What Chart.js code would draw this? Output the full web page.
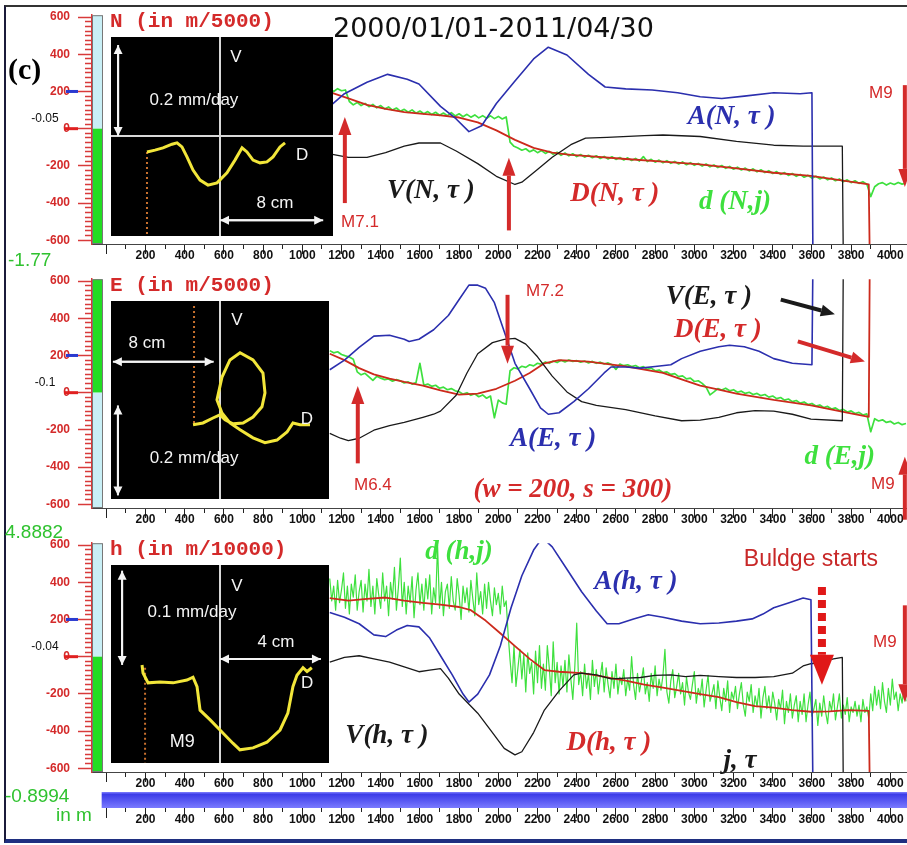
<!DOCTYPE html>
<html>
<head>
<meta charset="utf-8">
<script src="https://cdn.jsdelivr.net/npm/chart.js@4.4.0/dist/chart.umd.min.js"></script>
<style>
  body { margin: 0; width: 907px; height: 845px; overflow: hidden; background: #fff; position: relative; font-family: 'Liberation Sans', Arial, sans-serif; }
  canvas { position: absolute; }
  .t { position: absolute; white-space: nowrap; line-height: 1; }
  #frame { position: absolute; left: 4px; top: 5px; width: 930px; height: 838px; box-sizing: border-box;
    border-left: 2px solid #1b1b3a; border-top: 2px solid #333; border-bottom: 4px solid #1f2f80; }
</style>
</head>
<body>
<div id="frame"></div>
<canvas id="pN" width="940" height="266" style="left:0;top:0"></canvas>
<canvas id="pE" width="940" height="266" style="left:0;top:264px"></canvas>
<canvas id="pH" width="940" height="266" style="left:0;top:528px"></canvas>
<canvas id="strip" width="940" height="46" style="left:0;top:784px"></canvas>
<canvas id="iN" width="222" height="199" style="left:111px;top:37px;background:#000"></canvas>
<canvas id="iE" width="218" height="198" style="left:111px;top:301px;background:#000"></canvas>
<canvas id="iH" width="218" height="198" style="left:111px;top:565px;background:#000"></canvas>

<div class="t" style="left:8px;top:52px;font:bold 30px 'Liberation Serif'">(c)</div>
<div class="t" style="left:333px;top:12px;font:27px 'DejaVu Sans';color:#111">2000/01/01-2011/04/30</div>
<div class="t" style="left:110px;top:10px;font:bold 21px 'Liberation Mono';color:#d42a2a">N (in m/5000)</div>
<div class="t" style="left:110px;top:274px;font:bold 21px 'Liberation Mono';color:#d42a2a">E (in m/5000)</div>
<div class="t" style="left:110px;top:538px;font:bold 21px 'Liberation Mono';color:#d42a2a">h (in m/10000)</div>
<div class="t" style="left:8px;top:249px;font:19px 'Liberation Sans';color:#2fc22f">-1.77</div>
<div class="t" style="left:5px;top:521px;font:19px 'Liberation Sans';color:#2fc22f">4.8882</div>
<div class="t" style="left:5px;top:785px;font:19px 'Liberation Sans';color:#2fc22f">-0.8994</div>
<div class="t" style="left:56px;top:804px;font:19px 'Liberation Sans';color:#2fc22f">in m</div>

<script>
// days of the daily series (j); N and E sampled every 20 days, h every 10 days
const dayStart = 1140, dayStep = 20, hStep = 10

// d(N,j), d(E,j), d(h,j) - raw daily values
const dN = [212, 200, 215, 204, 208, 146, 128, 141, 124, 136, 118, 130, 112, 124, 106,
  117, 100, 111, 94, 104, 88, 101, 83, 95, 80, 92, 76, 88, 72, 84, 70, 86, 68, 80, 64,
  77, 62, 74, 58, 70, 56, 69, 54, 66, 52, 63, -72, -95, -104, -116, -108, -124, -114, -129, -118,
  -133, -122, -138, -127, -143, -131, -146, -135, -150, -139, -153, -143, -156, -146, -160,
  -149, -163, -151, -165, -155, -168, -157, -171, -160, -174, -150, -177, -165, -180, -169,
  -183, -172, -186, -176, -190, -179, -194, -183, -197, -187, -201, -190, -205, -195, -209,
  -198, -213, -203, -218, -207, -222, -212, -227, -216, -232, -221, -236, -226, -241, -231,
  -246, -236, -251, -241, -256, -246, -261, -251, -266, -256, -270, -260, -275, -265, -280,
  -270, -285, -275, -290, -280, -294, -285, -298, -365, -312, -296, -290, -303, -292, -300,
  -289, -298, -292]
const dE = [226, 214, 220, 205, 198, 192, 180, 112, 96, 104, 85, 66, 88, 78, 70,
  74, 62, 70, 64, 52, 58, 46, 54, 158, 40, 46, 34, 40, 24, 30, 16, 22, 10, 5, -8,
  0, -14, -6, -22, -12, -30, -18, -135, -40, -55, -62, 118, 134, 128, 142, 136, 150, 144, 158, 152,
  165, 158, 170, 162, 174, 165, 176, 168, 172, 164, 170, 160, 168, 158, 164,
  154, 160, 150, 125, 154, 145, 150, 140, 146, 134, 140, 126, 132, 118, 122,
  108, 112, 98, 102, 86, 90, 74, 78, 60, 64, 50, 30, -12, 4, 22,
  14, 24, 10, 16, 2, 8, -4, 2, -10, -4, -16, -10, -24, -18, -32,
  -26, -40, -34, -48, -42, -56, -50, -64, -58, -72, -66, -80, -74, -88, -82,
  -96, -90, -104, -98, -112, -106, -120, -114, -210, -140, -152, -146, -160, -154, -168,
  -160, -172, -166]
const dh = [420, 300, 380, 250, 410, 290, 360, 450, 260, 380,
  230, 390, 320, 440, 250, 350, 410, 240, 390, 300,
  470, 270, 380, 230, 420, 330, 260, 450, 300, 380,
  220, 400, 310, 480, 250, 370, 530, 270, 400, 230,
  380, 290, 430, 210, 360, 450, 280, 390, 250, 420,
  310, 440, 230, 370, 290, 600, 260, 400, 220, 350,
  390, 260, 430, 300, 250, 420, 330, 200, 380, 290,
  370, 240, 410, 310, 220, 450, 280, 350, 230, 390,
  260, 400, 300, 220, 370, 280, 340, 230, 380, 270,
  300, 120, -20, -140, 60, -160, -60, 40, -120, 10,
  -190, 20, -90, -30, -200, 30, -140, 60, -170, -40,
  -180, 60, -60, -210, 80, -140, -30, -200, -50, -160,
  -20, -190, 10, -120, -230, -60, 180, -150, -80, -210,
  -40, -170, -90, -230, -20, -160, -70, -200, -110, -30,
  -190, -60, -150, -220, -80, -170, -40, -200, -110, -150,
  -70, -210, -120, -180, 0, -150, -230, -90, -190, -130,
  -60, -200, -140, -240, -90, -170, -50, -210, -120, -180,
  -100, 40, -190, -250, -130, -70, -220, -160, -90, -200,
  -140, -260, -110, -190, -230, -150, -80, -250, -170, -210,
  -120, -270, -180, -100, -240, -200, -150, -280, -130, -220,
  -290, -170, -240, -130, -300, -190, -230, -160, -280, -200,
  -140, -260, -320, -190, -240, -150, -300, -210, -270, -170,
  -330, -220, -160, -280, -210, -300, -190, -250, -340, -230,
  -280, -180, -360, -240, -300, -200, -330, -260, -210, -350,
  -240, -310, -200, -350, -260, -190, -320, -280, -230, -370,
  -250, -320, -210, -300, -360, -240, -290, -200, -340, -270,
  -200, -330, -260, -310, -220, -350, -270, -300, -240, -320,
  -260, -350, -230, -300, -270, -330, -200, -290, -160, -260,
  -180, -280, -140, -240, -300, -170, -260, -120, -230, -190,
  -290, -200, -250, -160, -240]

// [day, value] for A, V, D curves
const A_N = [[1140,120],[1215,188],[1330,250],[1435,292],[1535,266],[1595,240],[1705,120],[1785,52],[1850,-16],[1915,16],[1990,135],[2085,256],[2180,375],[2255,438],[2350,396],[2460,292],[2545,224],[2650,214],[2785,208],[2915,193],[3030,172],[3140,162],[3255,175],[3405,193],[3540,188],[3600,193],[3605,-700]]
const V_N = [[1140,-136],[1235,-154],[1330,-154],[1425,-129],[1520,-94],[1595,-77],[1705,-77],[1785,-120],[1895,-188],[1990,-256],[2085,-300],[2120,-288],[2195,-223],[2275,-154],[2370,-86],[2445,-51],[2555,-47],[2745,-37],[2840,-34],[3030,-42],[3215,-68],[3405,-89],[3555,-94],[3755,-94],[3760,-700]]
const D_N = [[1140,197],[1235,163],[1330,128],[1425,106],[1520,89],[1615,80],[1705,72],[1800,60],[1895,34],[1990,-9],[2085,-60],[2180,-103],[2275,-129],[2370,-141],[2460,-148],[2650,-163],[2840,-177],[3030,-192],[3215,-214],[3405,-237],[3595,-254],[3785,-283],[3890,-300],[3895,-700]]

const A_E = [[1140,123],[1215,175],[1290,243],[1365,304],[1445,309],[1520,287],[1545,275],[1595,287],[1670,338],[1745,415],[1800,501],[1850,578],[1895,578],[1935,561],[1980,484],[2030,329],[2085,158],[2160,21],[2215,-82],[2255,-116],[2310,-108],[2385,-48],[2460,21],[2540,106],[2575,138],[2650,138],[2725,132],[2800,141],[2880,150],[2935,183],[3030,223],[3125,247],[3180,255],[3255,247],[3330,223],[3405,183],[3500,158],[3600,150],[3605,700]]
const V_E = [[1140,-219],[1195,-245],[1235,-258],[1290,-245],[1365,-202],[1445,-177],[1520,-160],[1615,-133],[1670,-116],[1705,-99],[1785,-14],[1840,106],[1895,209],[1970,269],[2030,287],[2085,292],[2140,261],[2200,193],[2275,89],[2350,4],[2425,-48],[2500,-68],[2650,-91],[2800,-125],[2935,-151],[3030,-148],[3125,-133],[3215,-108],[3310,-96],[3405,-99],[3500,-116],[3595,-142],[3755,-151],[3760,700]]
const D_E = [[1140,209],[1215,175],[1290,132],[1365,98],[1445,76],[1520,58],[1615,38],[1705,12],[1800,-10],[1895,-5],[1990,21],[2085,64],[2160,106],[2235,158],[2310,175],[2460,167],[2650,141],[2840,106],[2935,72],[3030,38],[3125,17],[3215,-5],[3405,-39],[3595,-68],[3785,-108],[3890,-130],[3895,700]]

const A_h = [[1140,237],[1215,212],[1290,177],[1365,117],[1425,108],[1480,143],[1535,168],[1595,160],[1650,100],[1705,5],[1765,-98],[1820,-201],[1850,-244],[1895,-201],[1955,-98],[2010,57],[2065,263],[2120,435],[2180,573],[2225,640],[2275,590],[2350,470],[2425,349],[2500,246],[2555,177],[2615,177],[2690,203],[2765,225],[2840,212],[2935,191],[3030,177],[3125,181],[3215,191],[3295,203],[3350,229],[3405,263],[3480,289],[3555,315],[3595,306],[3605,-700]]
const V_h = [[1140,-29],[1215,-4],[1290,5],[1365,-12],[1445,-29],[1520,-55],[1595,-81],[1650,-72],[1705,-64],[1745,-115],[1800,-201],[1895,-304],[1970,-408],[2030,-493],[2085,-528],[2120,-511],[2180,-408],[2235,-287],[2310,-184],[2385,-98],[2425,-89],[2500,-98],[2575,-119],[2650,-115],[2725,-112],[2800,-101],[2880,-98],[2955,-107],[3030,-101],[3125,-107],[3215,-112],[3310,-112],[3405,-107],[3500,-89],[3555,-50],[3595,-38],[3650,-29],[3710,-12],[3755,-4],[3760,-700]]
const D_h = [[1140,315],[1235,301],[1330,311],[1425,318],[1520,301],[1615,289],[1705,280],[1800,267],[1860,250],[1935,194],[2010,126],[2085,57],[2160,-12],[2235,-72],[2310,-81],[2425,-89],[2500,-101],[2575,-115],[2650,-129],[2745,-150],[2840,-167],[2935,-184],[3030,-201],[3125,-218],[3215,-244],[3310,-266],[3405,-274],[3500,-287],[3595,-296],[3690,-294],[3785,-287],[3890,-291],[3895,-700]]

// inset trajectories: [D in cm, V in mm/day]
const trackN = [[-5.66,-0.035],[-5.04,-0.031],[-4.42,-0.026],[-3.72,-0.018],[-3.33,-0.015],[-2.95,-0.024],[-2.56,-0.046],[-2.09,-0.075],[-1.55,-0.097],[-0.93,-0.108],[-0.23,-0.103],[0.54,-0.081],[1.16,-0.053],[1.71,-0.026],[2.09,-0.035],[2.56,-0.053],[3.1,-0.059],[3.64,-0.057],[4.11,-0.046],[4.65,-0.024],[5.04,-0.015]]
const trackE = [[-2.14,-0.053],[-1.35,-0.049],[-0.56,-0.038],[0,-0.031],[0.4,-0.042],[1.03,-0.051],[1.83,-0.049],[2.62,-0.036],[3.33,-0.013],[3.57,0.018],[3.41,0.062],[2.62,0.091],[1.59,0.107],[0.79,0.091],[0.16,0.053],[-0.24,0.002],[0.16,-0.027],[0.79,-0.049],[1.59,-0.064],[2.62,-0.082],[3.57,-0.093],[4.52,-0.087],[5.32,-0.069],[5.79,-0.049],[6.35,-0.053],[7.14,-0.053]]
const trackH = [[-3.09,0],[-3.05,-0.0085],[-2.85,-0.019],[-2.38,-0.018],[-1.86,-0.019],[-1.31,-0.016],[-1.07,-0.013],[-0.91,-0.023],[-0.79,-0.048],[-0.4,-0.058],[0,-0.069],[0.51,-0.083],[0.79,-0.09],[1.31,-0.088],[1.86,-0.082],[2.38,-0.069],[2.69,-0.051],[2.89,-0.023],[3.05,-0.011],[3.29,-0.003],[3.45,-0.007],[3.64,-0.003]]

const BLUE = '#2b2fae', RED = '#d42a2a', GREEN = '#3ee03e', BLACK = '#1a1a1a'
const SERIF = 'italic bold 27px "Liberation Serif"'
const SANS = '17px "Liberation Sans"'

const zip = (vals, step) => vals.map((v, i) => [dayStart + i * step, v])
const dayTicks = []
for (let d = 0; d <= 4000; d += 100) dayTicks.push(d)

function arrow(ctx, x1, y1, x2, y2, color, lw, hl, hw, dash) {
  const a = Math.atan2(y2 - y1, x2 - x1)
  const bx = x2 - hl * Math.cos(a), by = y2 - hl * Math.sin(a)
  ctx.save()
  ctx.strokeStyle = color
  ctx.fillStyle = color
  ctx.lineWidth = lw
  if (dash) ctx.setLineDash(dash)
  ctx.beginPath()
  ctx.moveTo(x1, y1)
  ctx.lineTo(bx, by)
  ctx.stroke()
  ctx.setLineDash([])
  ctx.beginPath()
  ctx.moveTo(x2, y2)
  ctx.lineTo(bx + (hw / 2) * Math.sin(a), by - (hw / 2) * Math.cos(a))
  ctx.lineTo(bx - (hw / 2) * Math.sin(a), by + (hw / 2) * Math.cos(a))
  ctx.closePath()
  ctx.fill()
  ctx.restore()
}

function drawNotes(chart, notes) {
  const { ctx, scales: { x, y } } = chart
  ctx.save()
  notes.forEach((n) => {
    if (n.text) {
      ctx.font = n.font || SERIF
      ctx.fillStyle = n.color
      ctx.textAlign = 'center'
      ctx.textBaseline = 'middle'
      ctx.fillText(n.text, x.getPixelForValue(n.x), y.getPixelForValue(n.y))
    } else {
      const x1 = x.getPixelForValue(n.from[0]), y1 = y.getPixelForValue(n.from[1])
      const x2 = x.getPixelForValue(n.to[0]), y2 = y.getPixelForValue(n.to[1])
      arrow(ctx, x1, y1, x2, y2, n.color, n.lw || 4, n.hl || 18, n.hw || 13, n.dash)
      if (n.both) arrow(ctx, x2, y2, x1, y1, n.color, n.lw || 4, n.hl || 18, n.hw || 13)
    }
  })
  ctx.restore()
}

// shared day axis (x) used by the three panels and the strip
function dayAxis(min, showBorder) {
  return {
    type: 'linear', min: min, max: 4085,
    afterFit: (s) => { s.height = 22 },
    afterBuildTicks: (s) => { s.ticks = dayTicks.map((value) => ({ value })) },
    border: showBorder ? { color: '#444', width: 1 } : { display: false },
    grid: {
      drawOnChartArea: false, tickLength: 10, tickColor: '#222',
      tickBorderDash: (c) => (c.tick && c.tick.value % 200 === 0 ? [] : [4, 40]),
    },
    ticks: {
      autoSkip: false, maxRotation: 0, padding: -6, color: '#111',
      font: { family: 'Liberation Sans', size: 12, weight: 'bold' },
      callback: (v) => (v > 0 && v % 200 === 0 ? String(v) : ''),
    },
  }
}

function makePanel(id, green, step, greenWidth, A, V, D, topFill, zeroText, notes) {
  const deco = {
    id: 'deco',
    afterDatasetsDraw(chart) { drawNotes(chart, notes) },
    afterDraw(chart) {
      const { ctx, chartArea: a, scales: { y } } = chart
      const y0 = y.getPixelForValue(0)
      ctx.save()
      ctx.fillStyle = topFill ? '#22dd22' : '#c9eff6'
      ctx.fillRect(a.left + 1, a.top, 9, y0 - a.top)
      ctx.fillStyle = topFill ? '#c9eff6' : '#22dd22'
      ctx.fillRect(a.left + 1, y0, 9, a.bottom - y0)
      ctx.strokeStyle = '#777'
      ctx.lineWidth = 1
      ctx.strokeRect(a.left + 0.5, a.top + 0.5, 10, a.bottom - a.top - 1)
      ctx.lineWidth = 3
      ctx.strokeStyle = '#2a3ad0'
      ctx.beginPath()
      ctx.moveTo(66, y.getPixelForValue(200))
      ctx.lineTo(78, y.getPixelForValue(200))
      ctx.stroke()
      ctx.strokeStyle = '#e02020'
      ctx.beginPath()
      ctx.moveTo(64, y0)
      ctx.lineTo(78, y0)
      ctx.stroke()
      ctx.font = '12px "Liberation Sans"'
      ctx.fillStyle = '#111'
      ctx.textAlign = 'center'
      ctx.textBaseline = 'middle'
      ctx.fillText(zeroText, 45, y0 - 10)
      ctx.restore()
    }
  }
  return new Chart(document.getElementById(id), {
    type: 'line',
    data: {
      datasets: [
        { data: A, borderColor: BLUE, borderWidth: 1.6, order: 1 },
        { data: V, borderColor: BLACK, borderWidth: 1.3, order: 2 },
        { data: D, borderColor: '#cc2a1c', borderWidth: 1.8, order: 3 },
        { data: zip(green, step), borderColor: GREEN, borderWidth: greenWidth, order: 4 },
      ],
    },
    options: {
      responsive: false,
      animation: false,
      events: [],
      layout: { padding: { top: 8, right: 33, left: 0, bottom: 0 } },
      plugins: { legend: { display: false }, tooltip: { enabled: false } },
      elements: { point: { radius: 0 }, line: { tension: 0, borderJoinStyle: 'round' } },
      scales: {
        x: dayAxis(-73, true),
        y: {
          type: 'linear', min: -620, max: 610,
          afterFit: (s) => { s.width = 92 },
          border: { color: '#d83a3a', width: 1.5 },
          grid: {
            drawOnChartArea: false, tickLength: 14, tickColor: '#d83a3a', tickWidth: 1.5,
            tickBorderDash: (c) => (c.tick && Math.round(c.tick.value) % 200 === 0 ? [] : [0, 7, 7, 0]),
          },
          ticks: {
            stepSize: 25, maxTicksLimit: 1000, autoSkip: false, includeBounds: false,
            padding: 8, color: '#d42a2a', font: { family: 'Liberation Sans', size: 12, weight: 'bold' },
            callback: (v) => (Math.round(v) % 200 === 0 ? String(Math.round(v)) : ''),
          },
        },
      },
    },
    plugins: [deco],
  })
}

makePanel('pN', dN, dayStep, 1.7, A_N, V_N, D_N, false, '-0.05', [
  { text: 'A(N, τ )', x: 3190, y: 63, color: BLUE },
  { text: 'V(N, τ )', x: 1656, y: -334, color: BLACK },
  { text: 'D(N, τ )', x: 2594, y: -354, color: RED },
  { text: 'd (N,j)', x: 3207, y: -396, color: GREEN },
  { text: 'M7.1', x: 1294, y: -505, color: RED, font: SANS },
  { text: 'M9', x: 3952, y: 190, color: RED, font: SANS },
  { from: [1217, -400], to: [1217, 63], color: RED },
  { from: [2054, -547], to: [2054, -156], color: RED },
  { from: [4074, 234], to: [4074, -313], color: RED },
])

makePanel('pE', dE, dayStep, 1.7, A_E, V_E, D_E, true, '-0.1', [
  { text: 'M7.2', x: 2238, y: 547, color: RED, font: SANS },
  { from: [2047, 526], to: [2047, 156], color: RED },
  { text: 'V(E, τ )', x: 3074, y: 516, color: BLACK },
  { from: [3441, 500], to: [3717, 422], color: BLACK, hl: 14, hw: 12 },
  { text: 'D(E, τ )', x: 3120, y: 339, color: RED },
  { from: [3528, 276], to: [3870, 167], color: RED, hl: 14, hw: 12 },
  { text: 'A(E, τ )', x: 2279, y: -250, color: BLUE },
  { text: 'M6.4', x: 1360, y: -500, color: RED, font: SANS },
  { from: [1283, -380], to: [1283, 36], color: RED },
  { text: '(w = 200, s = 300)', x: 2380, y: -521, color: RED },
  { text: 'd (E,j)', x: 3742, y: -344, color: GREEN },
  { text: 'M9', x: 3962, y: -495, color: RED, font: SANS },
  { from: [4074, -683], to: [4074, -344], color: RED },
])

makePanel('pH', dh, hStep, 1.2, A_h, V_h, D_h, false, '-0.04', [
  { text: 'd (h,j)', x: 1799, y: 563, color: GREEN },
  { text: 'A(h, τ )', x: 2702, y: 400, color: BLUE },
  { text: 'Buldge starts', x: 3595, y: 521, color: '#c82828', font: '23px "Liberation Sans"' },
  { from: [3651, 375], to: [3651, -151], color: '#e01818', lw: 8, hl: 30, hw: 24, dash: [8, 5] },
  { text: 'M9', x: 3972, y: 78, color: RED, font: SANS },
  { from: [4074, 276], to: [4074, -245], color: RED },
  { text: 'V(h, τ )', x: 1432, y: -427, color: BLACK },
  { text: 'D(h, τ )', x: 2564, y: -464, color: RED },
  { text: 'j, τ', x: 3233, y: -560, color: BLACK },
])

// time strip below the panels
const barSpan = [-22, 4085]
new Chart(document.getElementById('strip'), {
  type: 'bar',
  data: {
    labels: ['t'],
    datasets: [{
      data: [barSpan],
      barPercentage: 1,
      categoryPercentage: 1,
      backgroundColor: (c) => {
        const { ctx, chartArea } = c.chart
        if (!chartArea) return '#4a4aee'
        const g = ctx.createLinearGradient(0, chartArea.top, 0, chartArea.bottom)
        g.addColorStop(0, '#8080ff')
        g.addColorStop(0.15, '#3c3ce8')
        g.addColorStop(1, '#7a7aff')
        return g
      },
    }],
  },
  options: {
    indexAxis: 'y',
    responsive: false,
    animation: false,
    events: [],
    layout: { padding: { top: 8, right: 33, left: 0, bottom: 0 } },
    plugins: { legend: { display: false }, tooltip: { enabled: false } },
    scales: {
      x: dayAxis(-73, false),
      y: {
        afterFit: (s) => { s.width = 92 },
        border: { display: false },
        grid: { display: false },
        ticks: { display: false },
      },
    },
  },
})

function makeInset(id, xr, yr, track, dots, notes) {
  const deco = {
    id: 'insetNotes',
    afterDatasetsDraw(chart) { drawNotes(chart, notes) },
  }
  const axisLine = (c) => (c.tick && Math.abs(c.tick.value) < 1e-9 ? '#d8d8d8' : 'rgba(0,0,0,0)')
  return new Chart(document.getElementById(id), {
    type: 'scatter',
    data: {
      datasets: [
        { data: track, showLine: true, borderColor: '#f2e63a', borderWidth: 3, pointRadius: 0 },
        { data: dots, showLine: true, borderColor: '#c8702e', borderWidth: 2, borderDash: [2, 3], pointRadius: 0 },
      ],
    },
    options: {
      responsive: false,
      animation: false,
      events: [],
      layout: { padding: 0 },
      plugins: { legend: { display: false }, tooltip: { enabled: false } },
      scales: {
        x: {
          type: 'linear', min: xr[0], max: xr[1],
          border: { display: false }, ticks: { display: false, stepSize: 1 },
          grid: { drawTicks: false, color: axisLine, lineWidth: 2 },
        },
        y: {
          type: 'linear', min: yr[0], max: yr[1],
          border: { display: false }, ticks: { display: false, stepSize: 0.01 },
          grid: { drawTicks: false, color: axisLine, lineWidth: 2 },
        },
      },
    },
    plugins: [deco],
  })
}

const W = '#f4f4f4'
const INSET = '17px "Liberation Sans"'

makeInset('iN', [-8.45, 8.76], [-0.2198, 0.2176], trackN, [[-5.66, -0.035], [-5.66, -0.23]], [
  { text: 'V', x: 1.24, y: 0.174, color: W, font: INSET },
  { text: 'D', x: 6.36, y: -0.042, color: W, font: INSET },
  { text: '0.2 mm/day', x: -2.02, y: 0.079, color: W, font: INSET },
  { text: '8 cm', x: 4.26, y: -0.149, color: W, font: INSET },
  { from: [-7.9, 0.2], to: [-7.9, 0], color: W, lw: 2, hl: 9, hw: 9, both: true },
  { from: [0, -0.185], to: [8, -0.185], color: W, lw: 2, hl: 9, hw: 9, both: true },
])

makeInset('iE', [-8.65, 8.65], [-0.218, 0.222], trackE, [[-2.06, 0.211], [-2.06, -0.053]], [
  { text: 'V', x: 1.35, y: 0.18, color: W, font: INSET },
  { text: 'D', x: 6.9, y: -0.042, color: W, font: INSET },
  { text: '8 cm', x: -5.8, y: 0.129, color: W, font: INSET },
  { from: [-8.5, 0.087], to: [-0.5, 0.087], color: W, lw: 2, hl: 9, hw: 9, both: true },
  { text: '0.2 mm/day', x: -2.06, y: -0.127, color: W, font: INSET },
  { from: [-8.1, -0.01], to: [-8.1, -0.21], color: W, lw: 2, hl: 9, hw: 9, both: true },
])

makeInset('iH', [-4.32, 4.32], [-0.104, 0.106], trackH, [[-2.97, -0.003], [-2.97, -0.11]], [
  { text: 'V', x: 0.67, y: 0.083, color: W, font: INSET },
  { text: 'D', x: 3.45, y: -0.019, color: W, font: INSET },
  { text: '0.1 mm/day', x: -1.11, y: 0.056, color: W, font: INSET },
  { text: '4 cm', x: 2.22, y: 0.024, color: W, font: INSET },
  { from: [-3.88, 0], to: [-3.88, 0.1], color: W, lw: 2, hl: 9, hw: 9, both: true },
  { from: [0, 0.0064], to: [4, 0.0064], color: W, lw: 2, hl: 9, hw: 9, both: true },
  { text: 'M9', x: -1.5, y: -0.082, color: W, font: '18px "Liberation Sans"' },
])
</script>
</body>
</html>
